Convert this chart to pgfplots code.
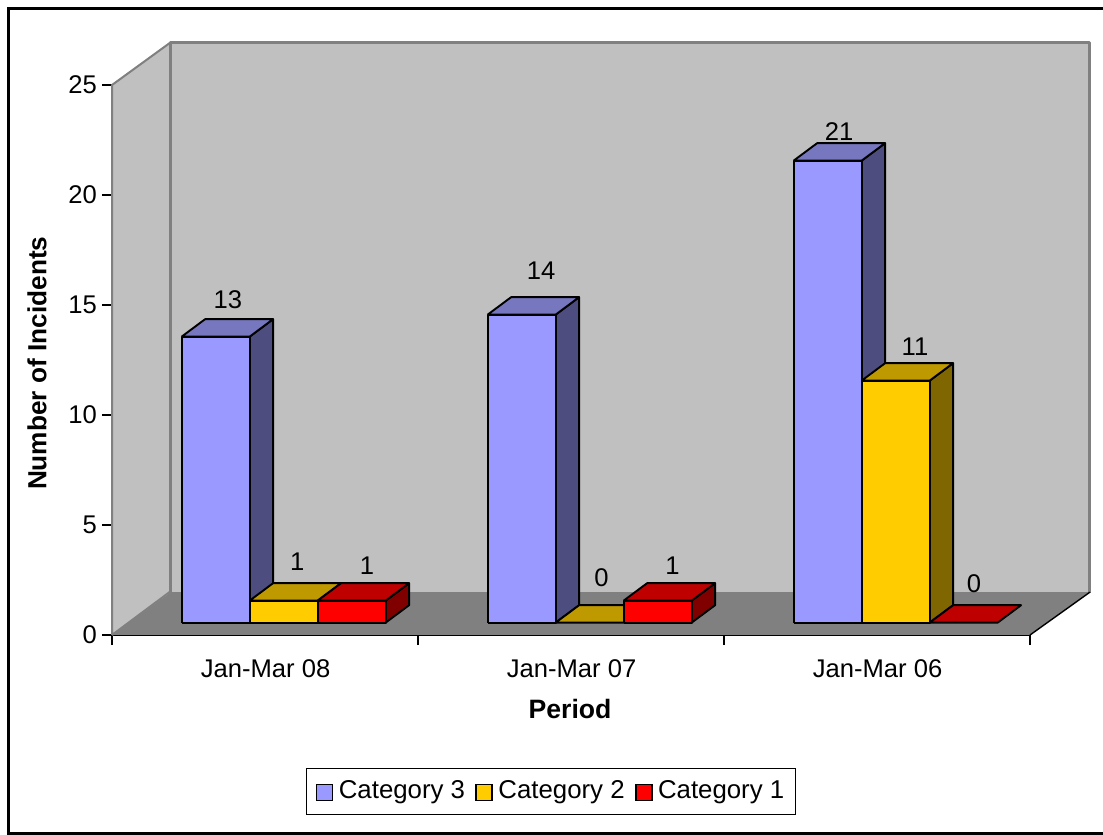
\documentclass[border=0pt]{standalone}
\usepackage{fontspec}
\setmainfont{Liberation Sans}
\usepackage{pgfplots}
\pgfplotsset{compat=1.18}

% Shades of the three series: front, top and side faces
\definecolor{blueF}{HTML}{9999FF}\definecolor{blueT}{HTML}{7777BF}\definecolor{blueS}{HTML}{4D4D80}
\definecolor{yellF}{HTML}{FFCC00}\definecolor{yellT}{HTML}{BF9900}\definecolor{yellS}{HTML}{806600}
\definecolor{redF}{HTML}{FF0000}\definecolor{redT}{HTML}{BF0000}\definecolor{redS}{HTML}{800000}
\definecolor{wall}{HTML}{C0C0C0}\definecolor{floorc}{HTML}{808080}

% Bar geometry in axis units
\newcommand{\barW}{0.2222}   % front face width
\newcommand{\depX}{0.0768}   % receding offset along x
\newcommand{\depY}{0.795}    % receding offset along y
\newcommand{\baseY}{0.56}    % height of the bar foot on the floor

% \barbox{group}{slot}{value}{front}{top}{side}
\newcommand{\barbox}[6]{%
  \pgfmathsetmacro\xa{#1+(69.6+68*#2)/306}%
  \pgfmathsetmacro\xb{\xa+\barW}%
  \pgfmathsetmacro\xc{\xa+\depX}%
  \pgfmathsetmacro\xd{\xb+\depX}%
  \pgfmathsetmacro\ya{\baseY}%
  \pgfmathsetmacro\yb{\baseY+#3}%
  \pgfmathsetmacro\yc{\yb+\depY}%
  \pgfmathsetmacro\yd{\baseY+\depY}%
  \addplot[fill=#6,draw=black,barline] coordinates {(\xb,\ya) (\xd,\yd) (\xd,\yc) (\xb,\yb) (\xb,\ya)};
  \addplot[fill=#5,draw=black,barline] coordinates {(\xa,\yb) (\xc,\yc) (\xd,\yc) (\xb,\yb) (\xa,\yb)};
  \addplot[fill=#4,draw=black,barline] coordinates {(\xa,\ya) (\xb,\ya) (\xb,\yb) (\xa,\yb) (\xa,\ya)};
}
% A bar of value zero shows only its footprint
\newcommand{\flatbox}[3]{%
  \pgfmathsetmacro\xa{#1+(69.6+68*#2)/306}%
  \pgfmathsetmacro\xb{\xa+\barW}%
  \pgfmathsetmacro\xc{\xa+\depX}%
  \pgfmathsetmacro\xd{\xb+\depX}%
  \pgfmathsetmacro\ya{\baseY}%
  \pgfmathsetmacro\yd{\baseY+\depY}%
  \addplot[fill=#3,draw=black,barline] coordinates {(\xa,\ya) (\xc,\yd) (\xd,\yd) (\xb,\ya) (\xa,\ya)};
}
\pgfplotsset{barline/.style={line width=0.95pt,line join=round,forget plot}}
\tikzset{vlabel/.style={font=\fontsize{12.8}{14}\selectfont}}

\begin{document}
\begin{tikzpicture}
\path[use as bounding box] (0,0) rectangle (551.5pt,417.5pt);
% Chart area border, open on the right-hand side
\draw[line width=1.25pt,line cap=rect] (551.5pt,413.2pt) -- (4.2pt,413.2pt) -- (4.2pt,0.8pt) -- (551.5pt,0.8pt);
\begin{axis}[
  at={(56pt,100pt)}, anchor=south west,
  scale only axis, width=459pt, height=275pt,
  xmin=0, xmax=3, ymin=0, ymax=25,
  clip=false, no markers,
  axis x line=bottom, axis y line=left,
  x axis line style={-,line width=0.7pt},
  y axis line style={-,line width=0.7pt,draw=black!75},
  tick style={black,line width=0.6pt},
  tick align=outside, major tick length=5pt,
  xtick={0,1,2,3}, ytick={0,5,10,15,20,25},
  x tick label as interval,
  xticklabels={Jan-Mar 08,Jan-Mar 07,Jan-Mar 06},
  xticklabel style={yshift=-4pt,xshift=0.3pt,font=\fontsize{12.8}{14}\selectfont},
  yticklabel style={font=\fontsize{12.8}{14}\selectfont,xshift=1pt},
  /pgf/number format/assume math mode=true,
  xlabel={Period}, ylabel={Number of Incidents},
  xlabel style={at={(axis description cs:0.499,-0.134)},anchor=center,
    font=\fontsize{13.3}{14}\selectfont\bfseries},
  ylabel style={at={(axis description cs:-0.0817,0.494)},anchor=center,
    font=\fontsize{13.1}{14}\selectfont\bfseries},
  legend columns=3,
  legend cell align=left,
  legend style={at={(axis description cs:0.4785,-0.2845)},anchor=center,
    draw=black,line width=0.6pt,inner xsep=4.6pt,inner ysep=4.4pt,
    font=\fontsize{12.9}{14}\selectfont,
    /tikz/every odd column/.append style={column sep=1.5pt},
    /tikz/every even column/.append style={column sep=4pt},
    nodes={inner xsep=1.2pt,inner ysep=2pt}},
  legend image code/.code={\draw[#1,line width=0.8pt] (0pt,-4.6pt) rectangle (8pt,3.4pt);},
]
% Walls and floor of the box
\addplot[fill=wall,draw=floorc,line width=1pt,line join=round,forget plot]
  coordinates {(0,0) (0,25) (0.1928,26.95) (0.1928,2) (0,0)};
\addplot[fill=wall,draw=none,forget plot]
  coordinates {(0.1928,1.9) (0.1928,26.95) (3.196,26.95) (3.196,1.9) (0.1928,1.9)};
\addplot[draw=floorc,line width=1.5pt,line join=round,forget plot]
  coordinates {(0.1928,1.9) (0.1928,26.95) (3.196,26.95) (3.196,1.9)};
\addplot[fill=floorc,draw=none,forget plot]
  coordinates {(0,0) (0.1928,1.95) (3.196,1.95) (3,0) (0,0)};
\addplot[draw=black,line width=0.7pt,forget plot] coordinates {(3,0) (3.196,1.95)};

% Jan-Mar 08
\barbox{0}{0}{13}{blueF}{blueT}{blueS}
\barbox{0}{1}{1}{yellF}{yellT}{yellS}
\barbox{0}{2}{1}{redF}{redT}{redS}
% Jan-Mar 07
\barbox{1}{0}{14}{blueF}{blueT}{blueS}
\flatbox{1}{1}{yellT}
\barbox{1}{2}{1}{redF}{redT}{redS}
% Jan-Mar 06
\barbox{2}{0}{21}{blueF}{blueT}{blueS}
\barbox{2}{1}{11}{yellF}{yellT}{yellS}
\flatbox{2}{2}{redT}

% Value labels
\node[vlabel] at (axis cs:0.379,15.23) {13};
\node[vlabel] at (axis cs:0.605,3.32) {1};
\node[vlabel] at (axis cs:0.833,3.14) {1};
\node[vlabel] at (axis cs:1.402,16.55) {14};
\node[vlabel] at (axis cs:1.600,2.59) {0};
\node[vlabel] at (axis cs:1.832,3.14) {1};
\node[vlabel] at (axis cs:2.376,22.9) {21};
\node[vlabel] at (axis cs:2.624,13.09) {11};
\node[vlabel] at (axis cs:2.817,2.32) {0};

\addlegendimage{fill=blueF,draw=black}
\addlegendentry{Category 3}
\addlegendimage{fill=yellF,draw=black}
\addlegendentry{Category 2}
\addlegendimage{fill=redF,draw=black}
\addlegendentry{Category 1}
\end{axis}
\end{tikzpicture}
\end{document}
